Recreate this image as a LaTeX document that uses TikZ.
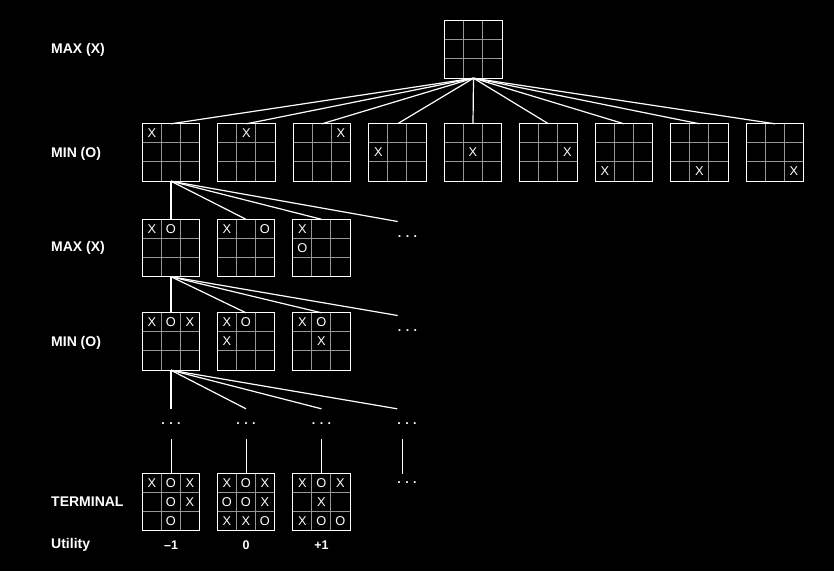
\documentclass[tikz,border=0pt]{standalone}
\usepackage{fontspec}
\setmainfont{Liberation Sans}
\usepackage{tikz}
\definecolor{gridgrey}{RGB}{150,150,150}

% one empty 3x3 board as a node, inner lines in grey
\newcommand{\tttboard}[3]{%
  \node[board] (#1) at (#2,#3) {};
  \foreach \k in {1,2} {
    \draw[gridline] ([xshift=\k*19pt]#1.north west) -- ([xshift=\k*19pt]#1.south west);
    \draw[gridline] ([yshift=-\k*19pt]#1.north west) -- ([yshift=-\k*19pt]#1.north east);
  }
  \draw[white,line width=1pt] (#1.north west) rectangle (#1.south east);
}
% marks column/row/symbol
\newcommand{\tttmarks}[2]{%
  \foreach \c/\r/\m in {#2}
    \node[cellmark] at ([shift={(\c*19-9.5,\r*19-9.5)}]#1.north west) {\m};
}

\begin{document}
\begin{tikzpicture}[x=1pt,y=-1pt,
    board/.style={minimum size=57pt,inner sep=0pt},
    gridline/.style={draw=gridgrey,line width=1.2pt},
    cellmark/.style={text=white,inner sep=0pt,font=\fontsize{12.8}{14}\selectfont},
    level/.style={text=white,anchor=base west,inner sep=0pt,font=\bfseries\fontsize{14}{16}\selectfont},
    utility/.style={text=white,anchor=base,inner sep=0pt,font=\bfseries\fontsize{12.5}{14}\selectfont},
    ellip/.style={text=white,inner sep=0pt,minimum height=30pt,font=\bfseries\fontsize{12.5}{14}\selectfont},
    edge/.style={white,line width=1.2pt}]
  \fill[black] (0,0) rectangle (834,571);
  \useasboundingbox (0,0) rectangle (834,571);

  % row labels
  \node[level] (lab1) at (51,53.3) {MAX (X)};
  \node[level] (lab2) at (51,157.7) {MIN (O)};
  \node[level] (lab3) at (51,251.7) {MAX (X)};
  \node[level] (lab4) at (51,346.7) {MIN (O)};
  \node[level] (lab5) at (51,506) {TERMINAL};
  \node[level] (lab6) at (51,548.3) {Utility};

  % root
  \tttboard{root}{473.5}{49.5}

  % first ply: X in each of the nine cells
  \foreach \i in {1,...,9} {
    \pgfmathsetmacro\bx{171+75.5*(\i-1)}
    \pgfmathtruncatemacro\cc{mod(\i-1,3)+1}
    \pgfmathtruncatemacro\rr{div(\i-1,3)+1}
    \tttboard{o\i}{\bx}{152.5}
    \tttmarks{o\i}{\cc/\rr/X}
    \draw[edge] (root.south) -- (o\i.north);
  }

  % second ply
  \tttboard{x1}{171}{248}
  \tttmarks{x1}{1/1/X,2/1/O}
  \tttboard{x2}{246}{248}
  \tttmarks{x2}{1/1/X,3/1/O}
  \tttboard{x3}{321.5}{248}
  \tttmarks{x3}{1/1/X,1/2/O}
  \node[ellip] (dx) at (407.5,236.7) {.\hspace{4.4pt}.\hspace{4.4pt}.};
  \foreach \n in {x1,x2,x3}
    \draw[edge] (o1.south) -- (\n.north);
  \draw[edge] (o1.south) -- (dx.north west);

  % third ply
  \tttboard{y1}{171}{341.5}
  \tttmarks{y1}{1/1/X,2/1/O,3/1/X}
  \tttboard{y2}{246}{341.5}
  \tttmarks{y2}{1/1/X,2/1/O,1/2/X}
  \tttboard{y3}{321.5}{341.5}
  \tttmarks{y3}{1/1/X,2/1/O,2/2/X}
  \node[ellip] (dy) at (407.5,330.7) {.\hspace{4.4pt}.\hspace{4.4pt}.};
  \foreach \n in {y1,y2,y3}
    \draw[edge] (x1.south) -- (\n.north);
  \draw[edge] (x1.south) -- (dy.north west);

  % deeper plies
  \node[ellip] (d1) at (171,424) {.\hspace{4.4pt}.\hspace{4.4pt}.};
  \node[ellip] (d2) at (246,424) {.\hspace{4.4pt}.\hspace{4.4pt}.};
  \node[ellip] (d3) at (321.5,424) {.\hspace{4.4pt}.\hspace{4.4pt}.};
  \node[ellip] (d4) at (407,424) {.\hspace{4.4pt}.\hspace{4.4pt}.};
  \node[ellip,minimum height=16pt] (e4) at (407,482.3) {.\hspace{4.4pt}.\hspace{4.4pt}.};
  \draw[edge] (y1.south) -- (d1.north);
  \draw[edge] (y1.south) -- (d2.north);
  \draw[edge] (y1.south) -- (d3.north);
  \draw[edge] (y1.south) -- (d4.north west);
  \draw[white,line width=1pt] ([xshift=-4.5pt]d4.south) -- ([xshift=-4.5pt]e4.north);

  % terminal states
  \tttboard{t1}{171}{502}
  \tttmarks{t1}{1/1/X,2/1/O,3/1/X,2/2/O,3/2/X,2/3/O}
  \tttboard{t2}{246}{502}
  \tttmarks{t2}{1/1/X,2/1/O,3/1/X,1/2/O,2/2/O,3/2/X,1/3/X,2/3/X,3/3/O}
  \tttboard{t3}{321.5}{502}
  \tttmarks{t3}{1/1/X,2/1/O,3/1/X,2/2/X,1/3/X,2/3/O,3/3/O}
  \draw[white,line width=1pt] (d1.south) -- (t1.north);
  \draw[white,line width=1pt] (d2.south) -- (t2.north);
  \draw[white,line width=1pt] (d3.south) -- (t3.north);

  % utilities
  \node[utility] (u1) at (171,549.5) {\textendash1};
  \node[utility] (u2) at (246,549.5) {0};
  \node[utility] (u3) at (321.5,549.5) {+1};
\end{tikzpicture}
\end{document}
